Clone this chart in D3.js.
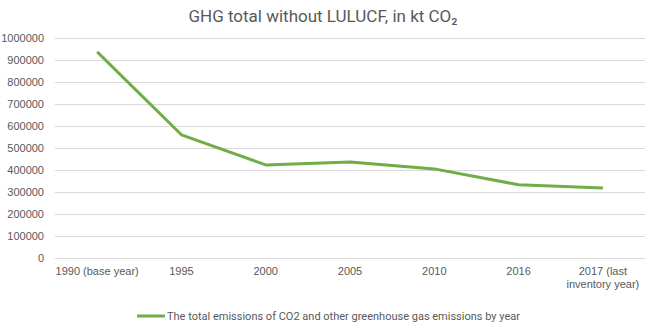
<!DOCTYPE html>
<head>
    <meta charset="utf-8">
    <style>
        body{ margin:0; background:#fff; }
        svg{ font-family: 'Roboto', sans-serif; }
        .axis .domain{ display:none; }
        .axis .tick line{ display:none; }
        .axis text{ fill:#595959; font-size:11px; }
        .grid line{ stroke:#d9d9d9; stroke-width:1px; shape-rendering:crispEdges; }
        .grid .domain{ display:none; }
        .line{ fill:none; stroke:#70ad47; stroke-width:3px; stroke-linejoin:round; }
        .title{ fill:#595959; font-size:17px; }
        .legend{ fill:#595959; font-size:11px; }
    </style>
</head>
<body>
    <div id="chart"></div>
    <script src="https://d3js.org/d3.v7.min.js"></script>
    <script>
        var years = ["1990 (base year)", "1995", "2000", "2005", "2010", "2016", "2017 (last inventory year)"];
        var emissions = [937000, 560000, 423000, 436000, 405000, 333000, 318000];
        var yTicks = [0, 100000, 200000, 300000, 400000, 500000, 600000, 700000, 800000, 900000, 1000000];
        var seriesName = "The total emissions of CO2 and other greenhouse gas emissions by year";

        var W = 646, H = 333;
        var margin = {top: 38, right: 1, bottom: 75, left: 55},
            width = W - margin.left - margin.right,
            height = H - margin.top - margin.bottom;

        var svg = d3.select("#chart").append("svg")
            .attr("width", W)
            .attr("height", H);

        svg.append("text")
            .attr("class", "title")
            .attr("x", W / 2)
            .attr("y", 22)
            .attr("text-anchor", "middle")
            .text("GHG total without LULUCF, in kt CO₂");

        var g = svg.append("g").attr("transform", "translate(" + margin.left + "," + margin.top + ")");

        var x = d3.scaleBand().domain(years).range([0, width]);
        var y = d3.scaleLinear().domain([0, 1000000]).range([height, 0]);

        // gridlines
        g.append("g")
            .attr("class", "grid")
            .call(d3.axisLeft(y).tickValues(yTicks).tickSize(-width).tickFormat(""));

        // y labels
        g.append("g")
            .attr("class", "y axis")
            .attr("transform", "translate(-11,0)")
            .call(d3.axisLeft(y).tickValues(yTicks).tickSize(0).tickPadding(0).tickFormat(d3.format("d")));

        // x labels
        var xa = g.append("g")
            .attr("class", "x axis")
            .attr("transform", "translate(0," + height + ")")
            .call(d3.axisBottom(x).tickSize(0).tickPadding(9));

        // wrap the long last label in two lines like the original
        xa.selectAll(".tick text").each(function(d) {
            if (d.indexOf("2017") === 0) {
                var t = d3.select(this);
                var dy = t.attr("dy");
                t.text(null);
                t.append("tspan").attr("x", 0).attr("dy", dy).text("2017 (last");
                t.append("tspan").attr("x", 0).attr("dy", "1.2em").text("inventory year)");
            }
        });

        var line = d3.line()
            .x(function(d, i) { return x(years[i]) + x.bandwidth() / 2; })
            .y(function(d) { return y(d); });

        g.append("path")
            .datum(emissions)
            .attr("class", "line")
            .attr("d", line);

        // legend
        var lg = svg.append("g").attr("transform", "translate(137,316)");
        lg.append("line")
            .attr("x1", 0).attr("x2", 28)
            .attr("stroke", "#70ad47").attr("stroke-width", 3);
        lg.append("text")
            .attr("class", "legend")
            .attr("x", 30)
            .attr("dy", "0.35em")
            .text(seriesName);
    </script>
</body>
